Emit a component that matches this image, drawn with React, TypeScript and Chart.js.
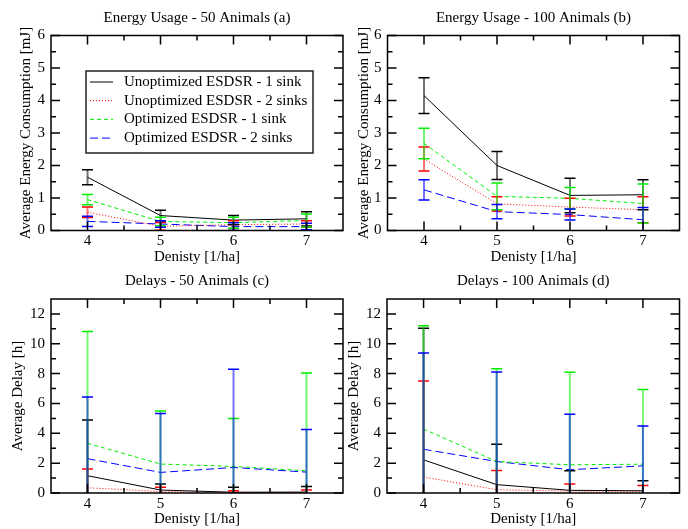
import React, { useEffect, useRef } from "react";
import { Chart, registerables } from "chart.js";

Chart.register(...registerables);

// ---------- data ----------
const densities = [4, 5, 6, 7];
const xTicks = [4, 5, 6, 7];
const energyTicks = [0, 1, 2, 3, 4, 5, 6];
const delayTicks = [0, 2, 4, 6, 8, 10, 12];
const seriesLabels = [
  "Unoptimized ESDSR - 1 sink",
  "Unoptimized ESDSR - 2 sinks",
  "Optimized ESDSR - 1 sink",
  "Optimized ESDSR - 2 sinks",
];

// (a) Energy usage - 50 animals  [mJ]
const e50Unopt1 = [1.64, 0.46, 0.32, 0.36];
const e50Unopt1Err = [0.23, 0.16, 0.14, 0.22];
const e50Unopt2 = [0.56, 0.13, 0.18, 0.2];
const e50Unopt2Err = [0.16, 0.12, 0.12, 0.1];
const e50Opt1 = [0.95, 0.28, 0.24, 0.31];
const e50Opt1Err = [0.16, 0.13, 0.17, 0.2];
const e50Opt2 = [0.28, 0.2, 0.12, 0.12];
const e50Opt2Err = [0.16, 0.1, 0.12, 0.1];

// (b) Energy usage - 100 animals [mJ]
const e100Unopt1 = [4.15, 2.0, 1.08, 1.1];
const e100Unopt1Err = [0.55, 0.43, 0.53, 0.46];
const e100Unopt2 = [2.2, 0.82, 0.72, 0.64];
const e100Unopt2Err = [0.37, 0.22, 0.27, 0.4];
const e100Opt1 = [2.68, 1.05, 0.99, 0.83];
const e100Opt1Err = [0.47, 0.41, 0.33, 0.6];
const e100Opt2 = [1.25, 0.58, 0.49, 0.33];
const e100Opt2Err = [0.31, 0.22, 0.17, 0.38];

// (c) Delays - 50 animals [h]
const d50Unopt1 = [1.16, 0.2, 0.05, 0.06];
const d50Unopt1Err = [3.73, 0.4, 0.33, 0.38];
const d50Unopt2 = [0.35, 0.1, 0.05, 0.05];
const d50Unopt2Err = [1.25, 0.28, 0.1, 0.15];
const d50Opt1 = [3.33, 1.94, 1.78, 1.49];
const d50Opt1Err = [7.49, 3.56, 3.21, 6.55];
const d50Opt2 = [2.3, 1.38, 1.71, 1.4];
const d50Opt2Err = [4.14, 3.94, 6.58, 2.86];

// (d) Delays - 100 animals [h]
const d100Unopt1 = [2.22, 0.56, 0.18, 0.15];
const d100Unopt1Err = [8.82, 2.71, 1.31, 0.67];
const d100Unopt2 = [1.07, 0.22, 0.13, 0.1];
const d100Unopt2Err = [6.44, 1.29, 0.47, 0.41];
const d100Opt1 = [4.29, 2.11, 1.89, 1.93];
const d100Opt1Err = [6.91, 6.22, 6.2, 5.0];
const d100Opt2 = [2.93, 2.11, 1.56, 1.82];
const d100Opt2Err = [6.45, 6.0, 3.71, 2.67];

// ---------- styles ----------
const FONT = "'Liberation Serif', 'Times New Roman', serif";
const seriesStyles = [
  { color: "#000000", dash: [] as number[] },
  { color: "#ff0000", dash: [1, 2] },
  { color: "#00ee00", dash: [4, 3] },
  { color: "#0000ff", dash: [8, 4] },
];

type PanelCfg = {
  title: string;
  yTitle: string;
  yMax: number;
  yTicks: number[];
  means: number[][];
  errs: number[][];
  legend: boolean;
  left: number;
  top: number;
  width: number;
  height: number;
  yAxisW: number;
  xAxisH: number;
  padRight: number;
  titlePadTop: number;
  titlePadBottom: number;
  yTitlePad: number;
  xTitlePad: number;
  xTickPad: number;
};

const panels: PanelCfg[] = [
  {
    title: "Energy Usage - 50 Animals (a)",
    yTitle: "Average Energy Consumption [mJ]",
    yMax: 6,
    yTicks: energyTicks,
    means: [e50Unopt1, e50Unopt2, e50Opt1, e50Opt2],
    errs: [e50Unopt1Err, e50Unopt2Err, e50Opt1Err, e50Opt2Err],
    legend: true,
    left: 0, top: 0, width: 344, height: 268,
    yAxisW: 51, xAxisH: 37.5, padRight: 1,
    titlePadTop: 9.5, titlePadBottom: 8, yTitlePad: 17, xTitlePad: 2, xTickPad: 1.5,
  },
  {
    title: "Energy Usage - 100 Animals (b)",
    yTitle: "Average Energy Consumption [mJ]",
    yMax: 6,
    yTicks: energyTicks,
    means: [e100Unopt1, e100Unopt2, e100Opt1, e100Opt2],
    errs: [e100Unopt1Err, e100Unopt2Err, e100Opt1Err, e100Opt2Err],
    legend: false,
    left: 344, top: 0, width: 344, height: 268,
    yAxisW: 43.5, xAxisH: 37.5, padRight: 8.5,
    titlePadTop: 9.5, titlePadBottom: 8, yTitlePad: 11, xTitlePad: 2, xTickPad: 1.5,
  },
  {
    title: "Delays - 50 Animals (c)",
    yTitle: "Average Delay [h]",
    yMax: 13,
    yTicks: delayTicks,
    means: [d50Unopt1, d50Unopt2, d50Opt1, d50Opt2],
    errs: [d50Unopt1Err, d50Unopt2Err, d50Opt1Err, d50Opt2Err],
    legend: false,
    left: 0, top: 268, width: 344, height: 261,
    yAxisW: 51, xAxisH: 36, padRight: 1,
    titlePadTop: 4, titlePadBottom: 9, yTitlePad: 9, xTitlePad: 1, xTickPad: 2,
  },
  {
    title: "Delays - 100 Animals (d)",
    yTitle: "Average Delay [h]",
    yMax: 13,
    yTicks: delayTicks,
    means: [d100Unopt1, d100Unopt2, d100Opt1, d100Opt2],
    errs: [d100Unopt1Err, d100Unopt2Err, d100Opt1Err, d100Opt2Err],
    legend: false,
    left: 344, top: 268, width: 344, height: 261,
    yAxisW: 43, xAxisH: 36, padRight: 8.5,
    titlePadTop: 4, titlePadBottom: 9, yTitlePad: 1.5, xTitlePad: 1, xTickPad: 2,
  },
];

// ---------- plugin: error bars, frame with inward ticks, legend ----------
const framePlugin = {
  id: "frame",
  afterDatasetsDraw(chart: any, _args: any, opts: any) {
    const { ctx, chartArea: ca, scales } = chart;
    const xs = scales.x;
    const ys = scales.y;

    // error bars
    ctx.save();
    ctx.beginPath();
    ctx.rect(ca.left, ca.top, ca.right - ca.left, ca.bottom - ca.top);
    ctx.clip();
    ctx.setLineDash([]);
    chart.data.datasets.forEach((ds: any) => {
      const errs: number[] = ds.errors;
      if (!errs) return;
      ds.data.forEach((p: any, i: number) => {
        const x = xs.getPixelForValue(p.x);
        const yHi = ys.getPixelForValue(p.y + errs[i]);
        const yLo = ys.getPixelForValue(p.y - errs[i]);
        ctx.strokeStyle = ds.borderColor;
        ctx.globalAlpha = 0.55;
        ctx.lineWidth = 2;
        ctx.beginPath();
        ctx.moveTo(x, yHi);
        ctx.lineTo(x, yLo);
        ctx.stroke();
        ctx.globalAlpha = 1;
        ctx.lineWidth = 1.5;
        ctx.beginPath();
        ctx.moveTo(x - 5.5, yHi);
        ctx.lineTo(x + 5.5, yHi);
        ctx.moveTo(x - 5.5, yLo);
        ctx.lineTo(x + 5.5, yLo);
        ctx.stroke();
      });
    });
    ctx.restore();

    // frame + inward ticks
    ctx.save();
    ctx.setLineDash([]);
    ctx.strokeStyle = "#000";
    ctx.lineWidth = 1.5;
    ctx.strokeRect(ca.left, ca.top, ca.right - ca.left, ca.bottom - ca.top);
    const major = 9;
    const minor = 5;
    const xt: number[] = opts.xTicks;
    const yt: number[] = opts.yTicks;
    const xMinor: number[] = [];
    for (let i = 0; i < xt.length - 1; i++) xMinor.push((xt[i] + xt[i + 1]) / 2);
    const yMinor: number[] = [];
    for (let i = 0; i < yt.length - 1; i++) yMinor.push((yt[i] + yt[i + 1]) / 2);
    if (yt.length > 1) {
      const last = yt[yt.length - 1] + (yt[1] - yt[0]) / 2;
      if (last < ys.max) yMinor.push(last);
    }
    ctx.beginPath();
    const vx = (v: number, len: number) => {
      const x = xs.getPixelForValue(v);
      ctx.moveTo(x, ca.bottom);
      ctx.lineTo(x, ca.bottom - len);
      ctx.moveTo(x, ca.top);
      ctx.lineTo(x, ca.top + len);
    };
    const vy = (v: number, len: number) => {
      const y = ys.getPixelForValue(v);
      ctx.moveTo(ca.left, y);
      ctx.lineTo(ca.left + len, y);
      ctx.moveTo(ca.right, y);
      ctx.lineTo(ca.right - len, y);
    };
    xt.forEach((v) => vx(v, major));
    xMinor.forEach((v) => vx(v, minor));
    yt.forEach((v) => vy(v, major));
    yMinor.forEach((v) => vy(v, minor));
    ctx.stroke();

    // legend
    if (opts.legend) {
      const bx = ca.left + 35;
      const by = ca.top + 35.5;
      const bw = 227;
      const bh = 82;
      ctx.fillStyle = "#fff";
      ctx.fillRect(bx, by, bw, bh);
      ctx.strokeStyle = "#222";
      ctx.lineWidth = 1.5;
      ctx.strokeRect(bx, by, bw, bh);
      ctx.font = `15px ${FONT}`;
      ctx.textBaseline = "middle";
      ctx.textAlign = "left";
      chart.data.datasets.forEach((ds: any, k: number) => {
        const y = by + 11 + k * 18.7;
        ctx.strokeStyle = ds.borderColor;
        ctx.lineWidth = 1;
        ctx.setLineDash(ds.borderDash || []);
        ctx.beginPath();
        ctx.moveTo(bx + 4, y);
        ctx.lineTo(bx + 27, y);
        ctx.stroke();
        ctx.setLineDash([]);
        ctx.fillStyle = "#000";
        ctx.fillText(ds.label, bx + 38, y);
      });
    }
    ctx.restore();
  },
};

function Panel({ cfg }: { cfg: PanelCfg }) {
  const ref = useRef<HTMLCanvasElement | null>(null);
  useEffect(() => {
    if (!ref.current) return;
    const font = { family: FONT, size: 15, lineHeight: 1.2 };
    const chart = new Chart(ref.current, {
      type: "line",
      data: {
        datasets: seriesStyles.map((s, k) => ({
          label: seriesLabels[k],
          data: densities.map((x, i) => ({ x, y: cfg.means[k][i] })),
          errors: cfg.errs[k],
          borderColor: s.color,
          backgroundColor: s.color,
          borderDash: s.dash,
          borderWidth: 1,
          pointRadius: 0,
          fill: false,
          tension: 0,
        })) as any,
      },
      options: {
        responsive: false,
        animation: false,
        devicePixelRatio: 1,
        layout: { padding: { left: 0, right: cfg.padRight, top: 0, bottom: 0 } },
        plugins: {
          legend: { display: false },
          tooltip: { enabled: false },
          title: {
            display: true,
            text: cfg.title,
            color: "#000",
            font: { ...font, weight: "normal" },
            fullSize: false,
            padding: { top: cfg.titlePadTop, bottom: cfg.titlePadBottom },
          },
          frame: { legend: cfg.legend, xTicks, yTicks: cfg.yTicks },
        } as any,
        scales: {
          x: {
            type: "linear",
            min: 3.5,
            max: 7.5,
            afterBuildTicks: (s: any) => {
              s.ticks = xTicks.map((v) => ({ value: v }));
            },
            afterFit: (s: any) => {
              s.height = cfg.xAxisH;
            },
            grid: { display: false, drawTicks: false },
            border: { display: false },
            ticks: {
              color: "#000",
              font,
              padding: cfg.xTickPad,
              maxRotation: 0,
              autoSkip: false,
            },
            title: {
              display: true,
              text: "Denisty [1/ha]",
              color: "#000",
              font,
              padding: { top: 0, bottom: cfg.xTitlePad },
            },
          },
          y: {
            type: "linear",
            min: 0,
            max: cfg.yMax,
            afterBuildTicks: (s: any) => {
              s.ticks = cfg.yTicks.map((v) => ({ value: v }));
            },
            afterFit: (s: any) => {
              s.width = cfg.yAxisW;
            },
            grid: { display: false, drawTicks: false },
            border: { display: false },
            ticks: { color: "#000", font, padding: 6, autoSkip: false },
            title: {
              display: true,
              text: cfg.yTitle,
              color: "#000",
              font,
              padding: { top: cfg.yTitlePad, bottom: 0 },
            },
          },
        },
      } as any,
      plugins: [framePlugin as any],
    });
    return () => chart.destroy();
  }, [cfg]);
  return (
    <canvas
      ref={ref}
      width={cfg.width}
      height={cfg.height}
      style={{
        position: "absolute",
        left: cfg.left,
        top: cfg.top,
        width: cfg.width,
        height: cfg.height,
      }}
    />
  );
}

export default function App() {
  return (
    <div
      style={{
        position: "fixed",
        left: 0,
        top: 0,
        width: 688,
        height: 529,
        background: "#fff",
        overflow: "hidden",
      }}
    >
      {panels.map((p, i) => (
        <Panel key={i} cfg={p} />
      ))}
    </div>
  );
}
